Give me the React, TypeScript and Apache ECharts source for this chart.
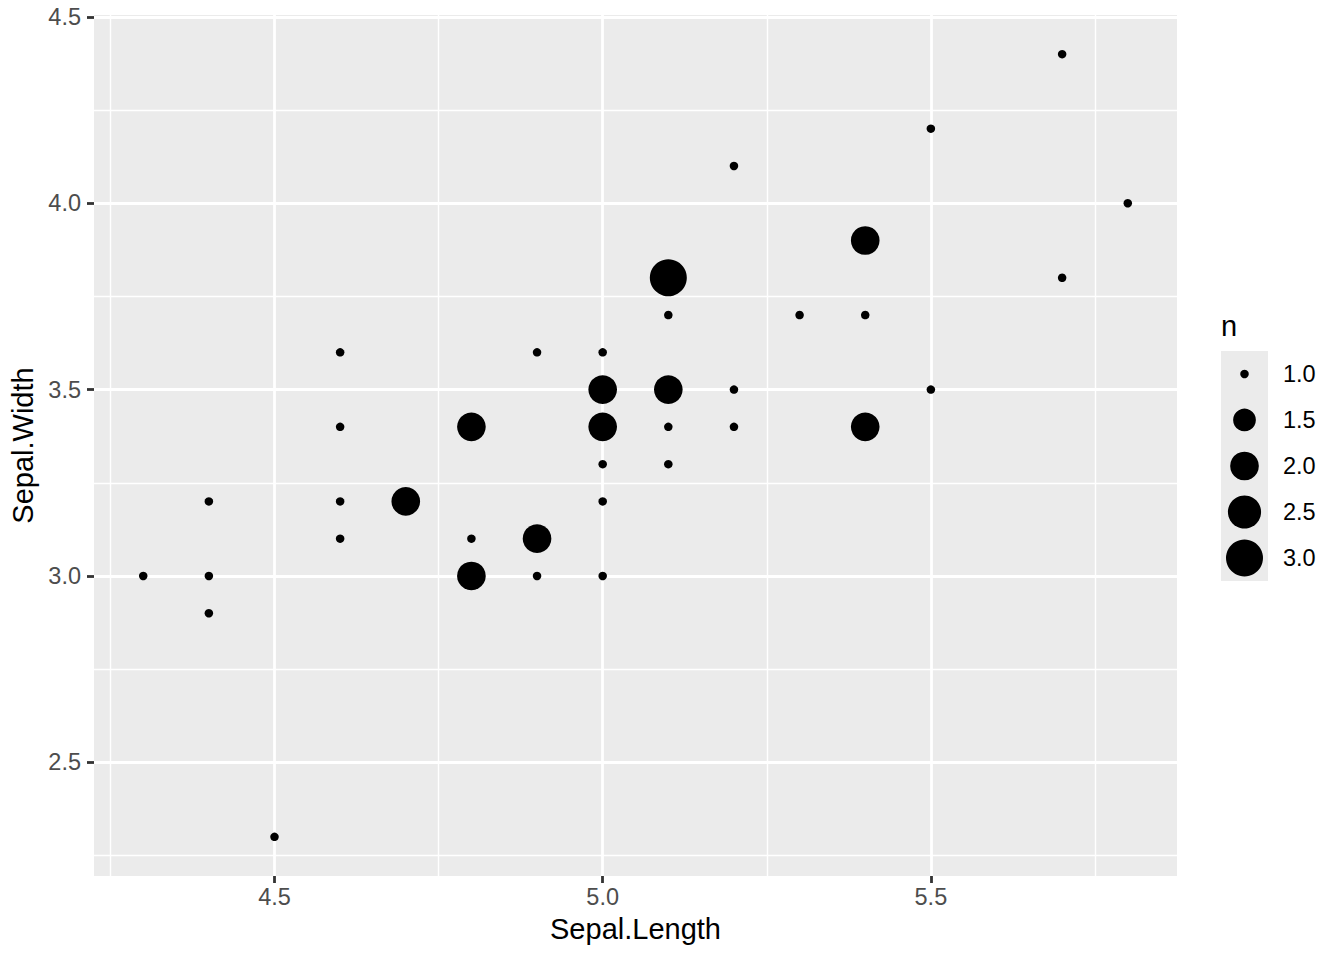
import React, { useEffect, useRef } from "react";
import * as echarts from "echarts";

// Counted iris setosa points: Sepal.Length, Sepal.Width, n
const sepalLength = [5.1, 4.9, 4.7, 4.6, 5.0, 5.4, 4.6, 5.0, 4.4, 4.9, 5.4, 4.8, 4.8, 4.3, 5.8, 5.7, 5.7, 5.1, 5.4, 5.1, 4.6, 5.1, 5.0, 5.2, 5.2, 4.8, 5.2, 5.5, 5.0, 5.5, 4.9, 4.4, 4.5, 4.4, 5.0, 4.6, 5.3, 5.0, 5.1];
const sepalWidth = [3.5, 3.0, 3.2, 3.1, 3.6, 3.9, 3.4, 3.4, 2.9, 3.1, 3.7, 3.4, 3.0, 3.0, 4.0, 4.4, 3.8, 3.8, 3.4, 3.7, 3.6, 3.3, 3.0, 3.5, 3.4, 3.1, 4.1, 4.2, 3.2, 3.5, 3.6, 3.0, 2.3, 3.2, 3.5, 3.2, 3.7, 3.3, 3.4];
const counts = [2, 1, 2, 1, 1, 2, 1, 2, 1, 2, 1, 2, 2, 1, 1, 1, 1, 3, 2, 1, 1, 1, 1, 1, 1, 1, 1, 1, 1, 1, 1, 1, 1, 1, 2, 1, 1, 1, 1];

const xMajor = [4.5, 5.0, 5.5];
const xMinor = [4.25, 4.75, 5.25, 5.75];
const yMajor = [2.5, 3.0, 3.5, 4.0, 4.5];
const yMinor = [2.25, 2.75, 3.25, 3.75, 4.25];
const legendBreaks = [1.0, 1.5, 2.0, 2.5, 3.0];
const legendLabels = ["1.0", "1.5", "2.0", "2.5", "3.0"];

const FONT = "'Liberation Sans', Arial, Helvetica, sans-serif";
const PANEL = "#EBEBEB";
const nMin = 1;
const nMax = 3;
const diameter = (n: number) => 8.5 + 28.5 * Math.sqrt((n - nMin) / (nMax - nMin));

export default function App() {
  const ref = useRef<HTMLDivElement>(null);
  useEffect(() => {
    document.body.style.margin = "0";
    const chart = echarts.init(ref.current!, null, { renderer: "svg" });
    const points = sepalLength.map((x, i) => [x, sepalWidth[i], counts[i]]);
    const major = { color: "#FFFFFF", width: 2.8, type: "solid" as const };
    const minor = { color: "#FFFFFF", width: 1.4, type: "solid" as const };
    chart.setOption({
      animation: false,
      textStyle: { fontFamily: FONT },
      title: {
        text: "n",
        left: 1221,
        top: 311,
        padding: 0,
        textStyle: { fontFamily: FONT, fontSize: 29, fontWeight: "normal", color: "#000" },
      },
      grid: [
        { left: 94, top: 15, width: 1083, height: 861, show: true, backgroundColor: PANEL, borderWidth: 0, containLabel: false },
        { left: 1221, top: 351, width: 47, height: 230, show: true, backgroundColor: PANEL, borderWidth: 0, containLabel: false },
      ],
      xAxis: [
        {
          type: "value",
          gridIndex: 0,
          min: 4.225,
          max: 5.875,
          splitLine: { show: false },
          axisLine: { show: false },
          axisTick: { show: true, customValues: xMajor, length: 7, lineStyle: { color: "#333333", width: 2.8 } },
          axisLabel: {
            customValues: xMajor,
            formatter: (v: number) => v.toFixed(1),
            color: "#4D4D4D",
            fontSize: 23.5,
            fontFamily: FONT,
            margin: 9,
          },
          name: "Sepal.Length",
          nameLocation: "middle",
          nameGap: 38,
          nameTextStyle: { fontSize: 29, color: "#000", fontFamily: FONT },
        },
        { type: "value", gridIndex: 1, min: -1, max: 1, show: false },
      ],
      yAxis: [
        {
          type: "value",
          gridIndex: 0,
          min: 2.195,
          max: 4.505,
          splitLine: { show: false },
          axisLine: { show: false },
          axisTick: { show: true, customValues: yMajor, length: 7, lineStyle: { color: "#333333", width: 2.8 } },
          axisLabel: {
            customValues: yMajor,
            formatter: (v: number) => v.toFixed(1),
            color: "#4D4D4D",
            fontSize: 23.5,
            fontFamily: FONT,
            margin: 13,
          },
          name: "Sepal.Width",
          nameLocation: "middle",
          nameGap: 50,
          nameTextStyle: { fontSize: 29, color: "#000", fontFamily: FONT },
        },
        {
          type: "category",
          gridIndex: 1,
          data: legendLabels,
          inverse: true,
          position: "right",
          axisLine: { show: false },
          axisTick: { show: false },
          splitLine: { show: false },
          axisLabel: { color: "#000", fontSize: 23.5, fontFamily: FONT, margin: 15 },
        },
      ],
      series: [
        {
          type: "scatter",
          xAxisIndex: 0,
          yAxisIndex: 0,
          data: [],
          z: 1,
          silent: true,
          markLine: {
            silent: true,
            z: 1,
            symbol: ["none", "none"],
            label: { show: false },
            animation: false,
            data: [
              ...xMinor.map((v) => ({ xAxis: v, lineStyle: minor })),
              ...yMinor.map((v) => ({ yAxis: v, lineStyle: minor })),
              ...xMajor.map((v) => ({ xAxis: v, lineStyle: major })),
              ...yMajor.map((v) => ({ yAxis: v, lineStyle: major })),
            ],
          },
        },
        {
          type: "scatter",
          xAxisIndex: 0,
          yAxisIndex: 0,
          z: 10,
          data: points,
          symbol: "circle",
          symbolSize: (v: number[]) => diameter(v[2]),
          itemStyle: { color: "#000000", opacity: 1 },
        },
        {
          type: "scatter",
          xAxisIndex: 1,
          yAxisIndex: 1,
          z: 10,
          data: legendBreaks.map((b, i) => [0, legendLabels[i], b]),
          symbol: "circle",
          symbolSize: (v: any[]) => diameter(v[2]),
          itemStyle: { color: "#000000", opacity: 1 },
        },
      ],
    });
    return () => chart.dispose();
  }, []);
  return <div ref={ref} style={{ width: 1344, height: 960 }} />;
}
